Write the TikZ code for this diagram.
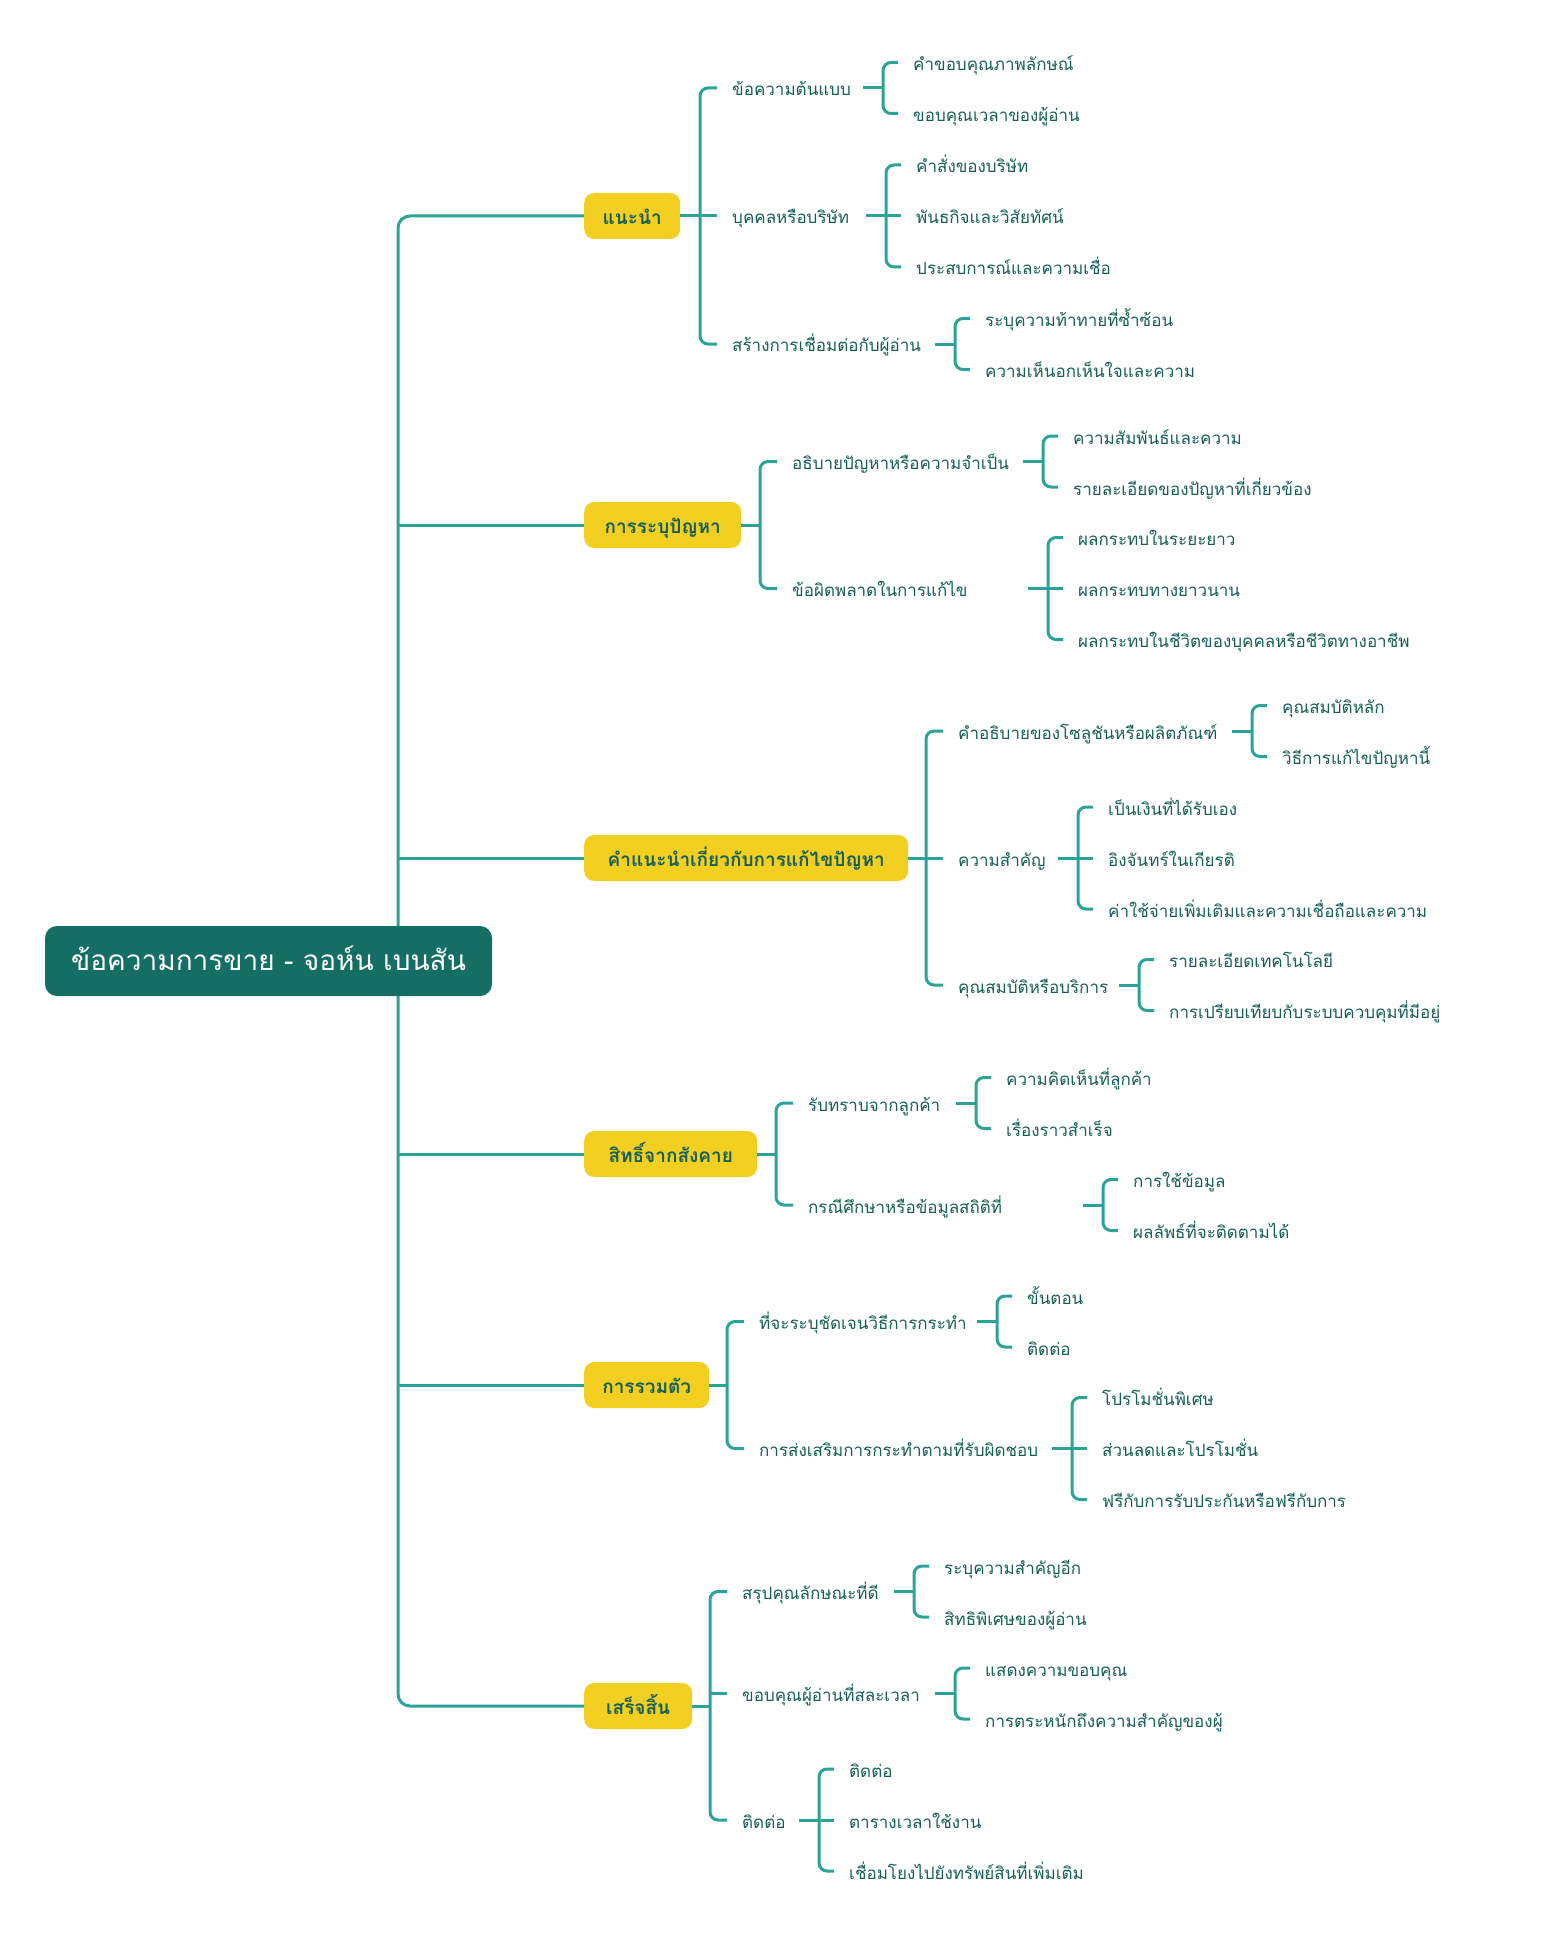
\documentclass[tikz,border=0pt]{standalone}
\usepackage{fontspec}
\newfontfamily\thaifont[Script=Thai]{Loma}
\usepackage{xcolor}
\definecolor{rootgreen}{HTML}{146E63}
\definecolor{topicyellow}{HTML}{F2CF21}
\definecolor{textgreen}{HTML}{155F56}
\definecolor{branch}{HTML}{2BA398}

\begin{document}
\begin{tikzpicture}[
    x=1pt, y=-1pt,
    font=\thaifont,
    root/.style={rectangle, rounded corners=12pt, fill=rootgreen, text=white, font=\thaifont\fontsize{28}{34}\selectfont, minimum width=447pt, minimum height=70pt, text height=26pt, text depth=8pt},
    topic/.style={rectangle, rounded corners=10pt, fill=topicyellow, text=textgreen, font=\thaifont\bfseries\fontsize{19}{24}\selectfont, minimum height=46pt, inner xsep=16pt, anchor=west, text height=22pt, text depth=5pt},
    item/.style={text=textgreen, font=\thaifont\fontsize{17}{20}\selectfont, inner xsep=15pt, inner ysep=0pt, anchor=west, text height=20pt, text depth=4pt},
    link/.style={line width=3pt, color=branch, rounded corners=8pt}
]
\useasboundingbox (0,0) rectangle (1548,1950);

% Spine
\coordinate (spine) at (398,961);

% Introduction
\node[topic, minimum width=96pt] (intro) at (584,216) {แนะนำ};
\coordinate (intro-br) at (700,216);
\node[item] (ia) at (717,88) {ข้อความต้นแบบ};
\node[item] (ib) at (717,216) {บุคคลหรือบริษัท};
\node[item] (ic) at (717,344) {สร้างการเชื่อมต่อกับผู้อ่าน};
\draw[link] (ia.west) -- (ia.west -| intro-br) -- (ic.west -| intro-br) -- (ic.west);
\draw[link] (intro.east) -- (ib.west);

\coordinate (ia-out) at (863,88);
\node[item] (ia-1) at (898,62.5) {คำขอบคุณภาพลักษณ์};
\node[item] (ia-2) at (898,113.5) {ขอบคุณเวลาของผู้อ่าน};
\draw[link] (ia-1.west) -- ++(-15,0) |- (ia-2.west);
\draw[link] (ia-out) -- ++(20,0);

\coordinate (ib-out) at (866,216);
\node[item] (ib-1) at (901,165) {คำสั่งของบริษัท};
\node[item] (ib-2) at (901,216) {พันธกิจและวิสัยทัศน์};
\node[item] (ib-3) at (901,267) {ประสบการณ์และความเชื่อ};
\draw[link] (ib-1.west) -- ++(-15,0) |- (ib-3.west);
\draw[link] (ib-out) -- (ib-2.west);

\coordinate (ic-out) at (935,344);
\node[item] (ic-1) at (970,318.5) {ระบุความท้าทายที่ซ้ำซ้อน};
\node[item] (ic-2) at (970,369.5) {ความเห็นอกเห็นใจและความ};
\draw[link] (ic-1.west) -- ++(-15,0) |- (ic-2.west);
\draw[link] (ic-out) -- ++(20,0);

% Problem
\node[topic, minimum width=157pt] (problem) at (584,525) {การระบุปัญหา};
\coordinate (problem-br) at (760,525);
\node[item] (pa) at (777,461.5) {อธิบายปัญหาหรือความจำเป็น};
\node[item] (pb) at (777,588.5) {ข้อผิดพลาดในการแก้ไข};
\draw[link] (pa.west) -- (pa.west -| problem-br) -- (pb.west -| problem-br) -- (pb.west);
\draw[link] (problem.east) -- (problem-br);

\coordinate (pa-out) at (1023,461.5);
\node[item] (pa-1) at (1058,436) {ความสัมพันธ์และความ};
\node[item] (pa-2) at (1058,487) {รายละเอียดของปัญหาที่เกี่ยวข้อง};
\draw[link] (pa-1.west) -- ++(-15,0) |- (pa-2.west);
\draw[link] (pa-out) -- ++(20,0);

\coordinate (pb-out) at (1028,588.5);
\node[item] (pb-1) at (1063,537.5) {ผลกระทบในระยะยาว};
\node[item] (pb-2) at (1063,588.5) {ผลกระทบทางยาวนาน};
\node[item] (pb-3) at (1063,639.5) {ผลกระทบในชีวิตของบุคคลหรือชีวิตทางอาชีพ};
\draw[link] (pb-1.west) -- ++(-15,0) |- (pb-3.west);
\draw[link] (pb-out) -- (pb-2.west);

% Solution
\node[topic, minimum width=324pt] (solution) at (584,858) {คำแนะนำเกี่ยวกับการแก้ไขปัญหา};
\coordinate (solution-br) at (926,858);
\node[item] (sa) at (943,731) {คำอธิบายของโซลูชันหรือผลิตภัณฑ์};
\node[item] (sb) at (943,858) {ความสำคัญ};
\node[item] (sc) at (943,985) {คุณสมบัติหรือบริการ};
\draw[link] (sa.west) -- (sa.west -| solution-br) -- (sc.west -| solution-br) -- (sc.west);
\draw[link] (solution.east) -- (sb.west);

\coordinate (sa-out) at (1232,731);
\node[item] (sa-1) at (1267,705.5) {คุณสมบัติหลัก};
\node[item] (sa-2) at (1267,756.5) {วิธีการแก้ไขปัญหานี้};
\draw[link] (sa-1.west) -- ++(-15,0) |- (sa-2.west);
\draw[link] (sa-out) -- ++(20,0);

\coordinate (sb-out) at (1058,858);
\node[item] (sb-1) at (1093,807) {เป็นเงินที่ได้รับเอง};
\node[item] (sb-2) at (1093,858) {อิงจันทร์ในเกียรติ};
\node[item] (sb-3) at (1093,909) {ค่าใช้จ่ายเพิ่มเติมและความเชื่อถือและความ};
\draw[link] (sb-1.west) -- ++(-15,0) |- (sb-3.west);
\draw[link] (sb-out) -- (sb-2.west);

\coordinate (sc-out) at (1119,985);
\node[item] (sc-1) at (1154,959.5) {รายละเอียดเทคโนโลยี};
\node[item] (sc-2) at (1154,1010.5) {การเปรียบเทียบกับระบบควบคุมที่มีอยู่};
\draw[link] (sc-1.west) -- ++(-15,0) |- (sc-2.west);
\draw[link] (sc-out) -- ++(20,0);

% Proof
\node[topic, minimum width=173pt] (proof) at (584,1154) {สิทธิ์จากสังคาย};
\coordinate (proof-br) at (776,1154);
\node[item] (ra) at (793,1103) {รับทราบจากลูกค้า};
\node[item] (rb) at (793,1205) {กรณีศึกษาหรือข้อมูลสถิติที่};
\draw[link] (ra.west) -- (ra.west -| proof-br) -- (rb.west -| proof-br) -- (rb.west);
\draw[link] (proof.east) -- (proof-br);

\coordinate (ra-out) at (956,1103);
\node[item] (ra-1) at (991,1077.5) {ความคิดเห็นที่ลูกค้า};
\node[item] (ra-2) at (991,1128.5) {เรื่องราวสำเร็จ};
\draw[link] (ra-1.west) -- ++(-15,0) |- (ra-2.west);
\draw[link] (ra-out) -- ++(20,0);

\coordinate (rb-out) at (1083,1205);
\node[item] (rb-1) at (1118,1179.5) {การใช้ข้อมูล};
\node[item] (rb-2) at (1118,1230.5) {ผลลัพธ์ที่จะติดตามได้};
\draw[link] (rb-1.west) -- ++(-15,0) |- (rb-2.west);
\draw[link] (rb-out) -- ++(20,0);

% Gathering
\node[topic, minimum width=125pt] (gather) at (584,1385) {การรวมตัว};
\coordinate (gather-br) at (727,1385);
\node[item] (ga) at (744,1321.5) {ที่จะระบุชัดเจนวิธีการกระทำ};
\node[item] (gb) at (744,1448.5) {การส่งเสริมการกระทำตามที่รับผิดชอบ};
\draw[link] (ga.west) -- (ga.west -| gather-br) -- (gb.west -| gather-br) -- (gb.west);
\draw[link] (gather.east) -- (gather-br);

\coordinate (ga-out) at (977,1321.5);
\node[item] (ga-1) at (1012,1296) {ขั้นตอน};
\node[item] (ga-2) at (1012,1347) {ติดต่อ};
\draw[link] (ga-1.west) -- ++(-15,0) |- (ga-2.west);
\draw[link] (ga-out) -- ++(20,0);

\coordinate (gb-out) at (1052,1448.5);
\node[item] (gb-1) at (1087,1397.5) {โปรโมชั่นพิเศษ};
\node[item] (gb-2) at (1087,1448.5) {ส่วนลดและโปรโมชั่น};
\node[item] (gb-3) at (1087,1499.5) {ฟรีกับการรับประกันหรือฟรีกับการ};
\draw[link] (gb-1.west) -- ++(-15,0) |- (gb-3.west);
\draw[link] (gb-out) -- (gb-2.west);

% Finish
\node[topic, minimum width=108pt] (finish) at (584,1706) {เสร็จสิ้น};
\coordinate (finish-br) at (710,1706);
\node[item] (fa) at (727,1591.5) {สรุปคุณลักษณะที่ดี};
\node[item] (fb) at (727,1693.5) {ขอบคุณผู้อ่านที่สละเวลา};
\node[item] (fc) at (727,1820) {ติดต่อ};
\draw[link] (fa.west) -- (fa.west -| finish-br) -- (fc.west -| finish-br) -- (fc.west);
\draw[link] (finish.east) -- (finish-br);
\draw[link] (fb.west -| finish-br) -- (fb.west);

\coordinate (fa-out) at (894,1591.5);
\node[item] (fa-1) at (929,1566) {ระบุความสำคัญอีก};
\node[item] (fa-2) at (929,1617) {สิทธิพิเศษของผู้อ่าน};
\draw[link] (fa-1.west) -- ++(-15,0) |- (fa-2.west);
\draw[link] (fa-out) -- ++(20,0);

\coordinate (fb-out) at (935,1693.5);
\node[item] (fb-1) at (970,1668) {แสดงความขอบคุณ};
\node[item] (fb-2) at (970,1719) {การตระหนักถึงความสำคัญของผู้};
\draw[link] (fb-1.west) -- ++(-15,0) |- (fb-2.west);
\draw[link] (fb-out) -- ++(20,0);

\coordinate (fc-out) at (799,1820);
\node[item] (fc-1) at (834,1769) {ติดต่อ};
\node[item] (fc-2) at (834,1820) {ตารางเวลาใช้งาน};
\node[item] (fc-3) at (834,1871) {เชื่อมโยงไปยังทรัพย์สินที่เพิ่มเติม};
\draw[link] (fc-1.west) -- ++(-15,0) |- (fc-3.west);
\draw[link] (fc-out) -- (fc-2.west);

% Spine to topics
\draw[link, rounded corners=12pt] (intro.west) -- (intro.west -| spine) -- (finish.west -| spine) -- (finish.west);
\draw[link] (problem.west -| spine) -- (problem.west);
\draw[link] (solution.west -| spine) -- (solution.west);
\draw[link] (proof.west -| spine) -- (proof.west);
\draw[link] (gather.west -| spine) -- (gather.west);

% Root
\node[root] (root) at (268.5,961) {ข้อความการขาย - จอห์น เบนสัน};

\end{tikzpicture}
\end{document}
